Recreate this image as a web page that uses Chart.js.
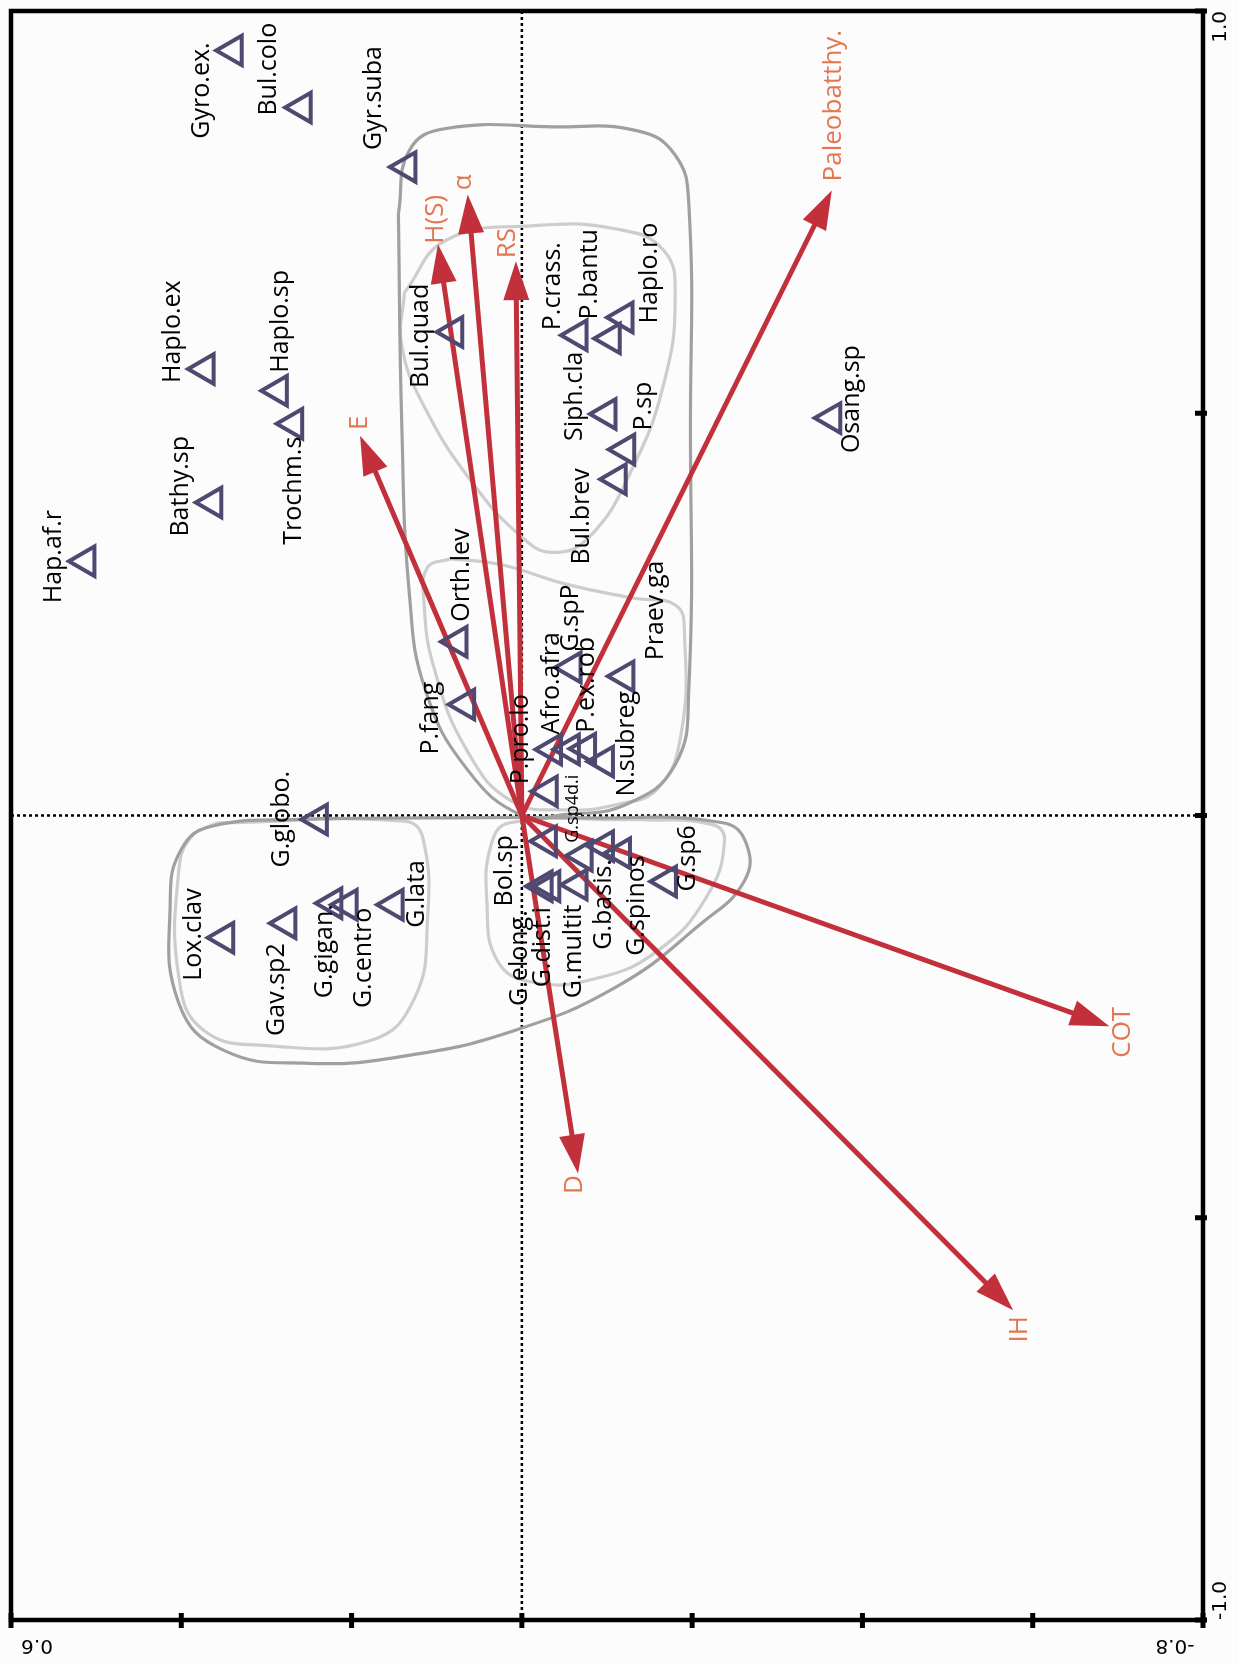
<!DOCTYPE html>
<html>
<head>
<meta charset="utf-8">
<script src="https://cdn.jsdelivr.net/npm/chart.js@4.4.0/dist/chart.umd.min.js"></script>
<style>
  html, body { margin: 0; padding: 0; background: #fcfcfc; }
  canvas { display: block; }
</style>
</head>
<body>
<canvas id="graph" width="1239" height="1664"></canvas>
<script>
// species scores (axis 1 runs right-to-left on screen, axis 2 bottom-to-top)
const speciesNames = [
  'Gyro.ex.', 'Bul.colo', 'Gyr.suba', 'Haplo.ex', 'Haplo.sp', 'Trochm.s', 'Bathy.sp', 'Hap.af.r',
  'Bul.quad', 'P.crass.', 'P.bantu', 'Haplo.ro', 'Siph.cla', 'P.sp', 'Bul.brev', 'Osang.sp',
  'Orth.lev', 'P.fang', 'G.spP', 'Praev.ga', 'Afro.afra', '', 'P.ex.rob', 'N.subreg', 'P.pro.lo',
  'Bol.sp', 'G.elong.', 'G.dist.i', 'G.multit', 'G.sp4d.i', 'G.basis.', 'G.spinos', 'G.sp6',
  'G.globo.', 'Lox.clav', 'Gav.sp2', 'G.gigan.', 'G.centro', 'G.lata'
];
const speciesAxis1 = [
  0.339, 0.258, 0.135, 0.372, 0.286, 0.268, 0.363, 0.512,
  0.080, -0.066, -0.105, -0.120, -0.100, -0.122, -0.112, -0.364,
  0.075, 0.066, -0.059, -0.121, -0.036, -0.057, -0.076, -0.097, -0.031,
  -0.030, -0.025, -0.034, -0.066, -0.072, -0.097, -0.117, -0.171,
  0.239, 0.349, 0.276, 0.222, 0.204, 0.150
];
const speciesAxis2 = [
  0.951, 0.880, 0.806, 0.555, 0.528, 0.487, 0.389, 0.316,
  0.601, 0.597, 0.593, 0.619, 0.499, 0.455, 0.418, 0.494,
  0.216, 0.138, 0.184, 0.173, 0.082, 0.082, 0.083, 0.067, 0.030,
  -0.032, -0.088, -0.088, -0.086, -0.050, -0.038, -0.047, -0.082,
  -0.005, -0.152, -0.134, -0.109, -0.111, -0.111
];

// environmental vectors
const envNames = ['Paleobatthy.', 'COT', 'IH', 'D', 'E', 'H(S)', 'α', 'RS'];
const envAxis1 = [-0.364, -0.690, -0.577, -0.066, 0.190, 0.0985, 0.0636, 0.007];
const envAxis2 = [0.777, -0.262, -0.615, -0.445, 0.472, 0.710, 0.772, 0.689];

// group outlines (axis1, axis2)
const hullUpperOuter = [
  [0.145, 0.748], [0.132, 0.827], [0.089, 0.854], [-0.036, 0.856], [-0.136, 0.851],
  [-0.180, 0.821], [-0.196, 0.762], [-0.198, 0.485], [-0.196, 0.155], [-0.180, 0.063],
  [-0.123, 0.014], [-0.049, 0.001], [0.000, 0.000], [0.064, 0.057], [0.113, 0.155],
  [0.132, 0.274], [0.141, 0.485], [0.145, 0.748]
];
const hullUpperRight = [
  [0.138, 0.650], [0.089, 0.715], [-0.011, 0.733], [-0.111, 0.729], [-0.167, 0.702],
  [-0.180, 0.643], [-0.167, 0.538], [-0.130, 0.432], [-0.080, 0.347], [-0.036, 0.327],
  [0.001, 0.347], [0.057, 0.412], [0.113, 0.505], [0.141, 0.584], [0.138, 0.650]
];
const hullCentre = [
  [0.084, 0.319], [0.025, 0.312], [-0.054, 0.287], [-0.132, 0.270], [-0.181, 0.261],
  [-0.191, 0.225], [-0.187, 0.101], [-0.160, 0.034], [-0.113, 0.014], [-0.054, 0.007],
  [0.012, 0.018], [0.064, 0.080], [0.103, 0.183], [0.115, 0.266], [0.111, 0.308], [0.084, 0.319]
];
const hullLowerOuter = [
  [0.238, -0.004], [0.113, -0.003], [-0.074, -0.003], [-0.236, -0.009], [-0.264, -0.036],
  [-0.261, -0.082], [-0.211, -0.134], [-0.111, -0.213], [0.014, -0.269], [0.138, -0.299],
  [0.251, -0.308], [0.350, -0.292], [0.403, -0.233], [0.413, -0.108], [0.400, -0.042],
  [0.363, -0.013], [0.238, -0.004]
];
const hullLowerLeft = [
  [0.357, -0.009], [0.138, -0.007], [0.116, -0.029], [0.111, -0.134], [0.126, -0.227],
  [0.176, -0.279], [0.300, -0.286], [0.375, -0.266], [0.403, -0.200], [0.403, -0.069],
  [0.388, -0.026], [0.357, -0.009]
];
const hullLowerCentre = [
  [-0.136, -0.005], [-0.223, -0.011], [-0.238, -0.032], [-0.217, -0.101], [-0.161, -0.167],
  [-0.086, -0.203], [-0.011, -0.207], [0.029, -0.180], [0.041, -0.108], [0.036, -0.036],
  [0.014, -0.009], [-0.136, -0.005]
];

const axis1Ticks = [0.6, 0.4, 0.2, 0, -0.2, -0.4, -0.6, -0.8];
const axis1TickLabels = ['0.6', '', '', '', '', '', '', '-0.8'];
const axis2Ticks = [1, 0.5, 0, -0.5, -1];
const axis2TickLabels = ['1.0', '', '', '', '-1.0'];

// label placement in pixels relative to the marker: [dx, dy, align]
const speciesLabelPlace = [
  [-31, -8, 'right'], [-33, 8, 'left'], [-33, -17, 'left'], [-32, 14, 'left'], [3, -18, 'left'],
  [0, 13, 'right'], [-32, 34, 'left'], [-32, 42, 'left'],
  [-33, 56, 'left'], [-25, -5, 'left'], [-21, -19, 'left'], [26, 6, 'left'], [-32, 27, 'left'],
  [18, -19, 'left'], [-35, -11, 'right'], [20, 35, 'left'],
  [4, -20, 'left'], [-35, 50, 'left'], [-1, -16, 'left'], [31, -16, 'left'], [-1, -15, 'left'],
  [0, 0, 'left'], [0, -16, 'left'], [22, 35, 'left'], [-27, -7, 'left'],
  [-43, -6, 'right'], [-23, 24, 'right'], [-8, 21, 'right'], [-4, 20, 'right'], [-10, -13, 'left'],
  [-1, 13, 'right'], [15, 2, 'right'], [20, 10, 'left'],
  [-36, 48, 'left'], [-31, 43, 'left'], [-10, 20, 'right'], [-8, 1, 'right'], [16, 3, 'right'],
  [23, 23, 'left']
];
const envLabelPlace = [
  [2, -9, 'left'], [13, 6, 'center'], [6, 19, 'center'], [-3, 11, 'center'],
  [0, -13, 'center'], [-2, -25, 'center'], [-4, -12, 'center'], [-8, -18, 'center']
];

const ctx = document.getElementById('graph').getContext('2d');

function hullDataset(points, color) {
  return {
    data: points.map(p => ({ x: p[0], y: p[1] })),
    showLine: true,
    pointRadius: 0,
    borderColor: color,
    borderWidth: 3.2,
    tension: 0.45,
    fill: false,
    order: 10
  };
}

function drawRotated(c, text, x, y, align) {
  c.save();
  c.translate(x, y);
  c.rotate(-Math.PI / 2);
  c.textAlign = align;
  c.textBaseline = 'middle';
  c.fillText(text, 0, 0);
  c.restore();
}

function drawArrow(c, x0, y0, x1, y1) {
  const ang = Math.atan2(y1 - y0, x1 - x0);
  const headLen = 39, headHalf = 13;
  const cs = Math.cos(ang), sn = Math.sin(ang);
  const bx = x1 - headLen * cs, by = y1 - headLen * sn;
  c.beginPath();
  c.moveTo(x0, y0);
  c.lineTo(bx + 4 * cs, by + 4 * sn);
  c.stroke();
  c.beginPath();
  c.moveTo(x1, y1);
  c.lineTo(bx + headHalf * sn, by - headHalf * cs);
  c.lineTo(bx - headHalf * sn, by + headHalf * cs);
  c.closePath();
  c.fill();
}

const biplotPlugin = {
  id: 'biplot',
  beforeDatasetsDraw(chart) {
    const c = chart.ctx, xs = chart.scales.x, ys = chart.scales.y, a = chart.chartArea;
    c.save();
    c.strokeStyle = '#000';
    c.lineWidth = 2.5;
    c.setLineDash([3, 3]);
    c.beginPath();
    c.moveTo(xs.getPixelForValue(0), a.top);
    c.lineTo(xs.getPixelForValue(0), a.bottom);
    c.moveTo(a.left, ys.getPixelForValue(0));
    c.lineTo(a.right, ys.getPixelForValue(0));
    c.stroke();
    c.restore();
  },
  beforeDatasetDraw(chart, args) {
    if (args.index !== 0) return;
    const c = chart.ctx, xs = chart.scales.x, ys = chart.scales.y;
    const x0 = xs.getPixelForValue(0), y0 = ys.getPixelForValue(0);
    c.save();
    c.strokeStyle = '#c2313b';
    c.fillStyle = '#c2313b';
    c.lineWidth = 5;
    envNames.forEach((n, i) => {
      drawArrow(c, x0, y0, xs.getPixelForValue(envAxis1[i]), ys.getPixelForValue(envAxis2[i]));
    });
    c.restore();
  },
  afterDatasetsDraw(chart) {
    const c = chart.ctx, xs = chart.scales.x, ys = chart.scales.y;
    c.save();
    c.fillStyle = '#000';
    speciesNames.forEach((n, i) => {
      if (!n) return;
      const p = speciesLabelPlace[i];
      c.font = n === 'G.sp4d.i' ? '18px "Open Sans"' : '25px "Open Sans"';
      drawRotated(c, n, xs.getPixelForValue(speciesAxis1[i]) + p[0],
        ys.getPixelForValue(speciesAxis2[i]) + p[1], p[2]);
    });
    c.fillStyle = '#e37650';
    c.font = '26px "Open Sans"';
    envNames.forEach((n, i) => {
      const p = envLabelPlace[i];
      drawRotated(c, n, xs.getPixelForValue(envAxis1[i]) + p[0],
        ys.getPixelForValue(envAxis2[i]) + p[1], p[2]);
    });
    c.restore();
  },
  afterDraw(chart) {
    const c = chart.ctx, xs = chart.scales.x, ys = chart.scales.y, a = chart.chartArea;
    c.save();
    c.strokeStyle = '#000';
    c.lineWidth = 4.5;
    c.strokeRect(a.left, a.top, a.right - a.left, a.bottom - a.top);
    c.lineWidth = 5;
    c.beginPath();
    axis1Ticks.forEach(v => {
      const px = xs.getPixelForValue(v);
      c.moveTo(px, a.bottom - 7);
      c.lineTo(px, a.bottom + 8);
    });
    axis2Ticks.forEach(v => {
      const py = ys.getPixelForValue(v);
      c.moveTo(a.right - 8, py);
      c.lineTo(a.right + 4, py);
    });
    c.stroke();
    c.fillStyle = '#000';
    c.font = '20px "DejaVu Sans"';
    c.textBaseline = 'middle';
    axis1Ticks.forEach((v, i) => {
      if (!axis1TickLabels[i]) return;
      c.save();
      c.translate(xs.getPixelForValue(v) + (i === 0 ? 26 : -28), a.bottom + 25);
      c.rotate(Math.PI);
      c.textAlign = 'center';
      c.fillText(axis1TickLabels[i], 0, 0);
      c.restore();
    });
    axis2Ticks.forEach((v, i) => {
      if (!axis2TickLabels[i]) return;
      const py = ys.getPixelForValue(v);
      drawRotated(c, axis2TickLabels[i], a.right + 18, py, i === 0 ? 'right' : 'left');
    });
    c.restore();
  }
};

new Chart(ctx, {
  type: 'scatter',
  data: {
    datasets: [
      {
        data: speciesNames.map((n, i) => ({ x: speciesAxis1[i], y: speciesAxis2[i] })),
        pointStyle: 'triangle',
        rotation: -90,
        pointRadius: 17,
        pointHoverRadius: 17,
        backgroundColor: 'rgba(0,0,0,0)',
        borderColor: '#4f4870',
        borderWidth: 4,
        order: 0
      },
      hullDataset(hullUpperOuter, '#a0a0a0'),
      hullDataset(hullUpperRight, '#cdcdcd'),
      hullDataset(hullCentre, '#cdcdcd'),
      hullDataset(hullLowerOuter, '#a0a0a0'),
      hullDataset(hullLowerLeft, '#cdcdcd'),
      hullDataset(hullLowerCentre, '#cdcdcd')
    ]
  },
  options: {
    responsive: false,
    animation: false,
    devicePixelRatio: 1,
    layout: { autoPadding: false, padding: { left: 11, right: 36, top: 11, bottom: 44 } },
    plugins: { legend: { display: false }, tooltip: { enabled: false } },
    scales: {
      x: { type: 'linear', min: -0.8, max: 0.6, reverse: true, display: false },
      y: { type: 'linear', min: -1, max: 1, display: false }
    }
  },
  plugins: [biplotPlugin]
});
</script>
</body>
</html>
